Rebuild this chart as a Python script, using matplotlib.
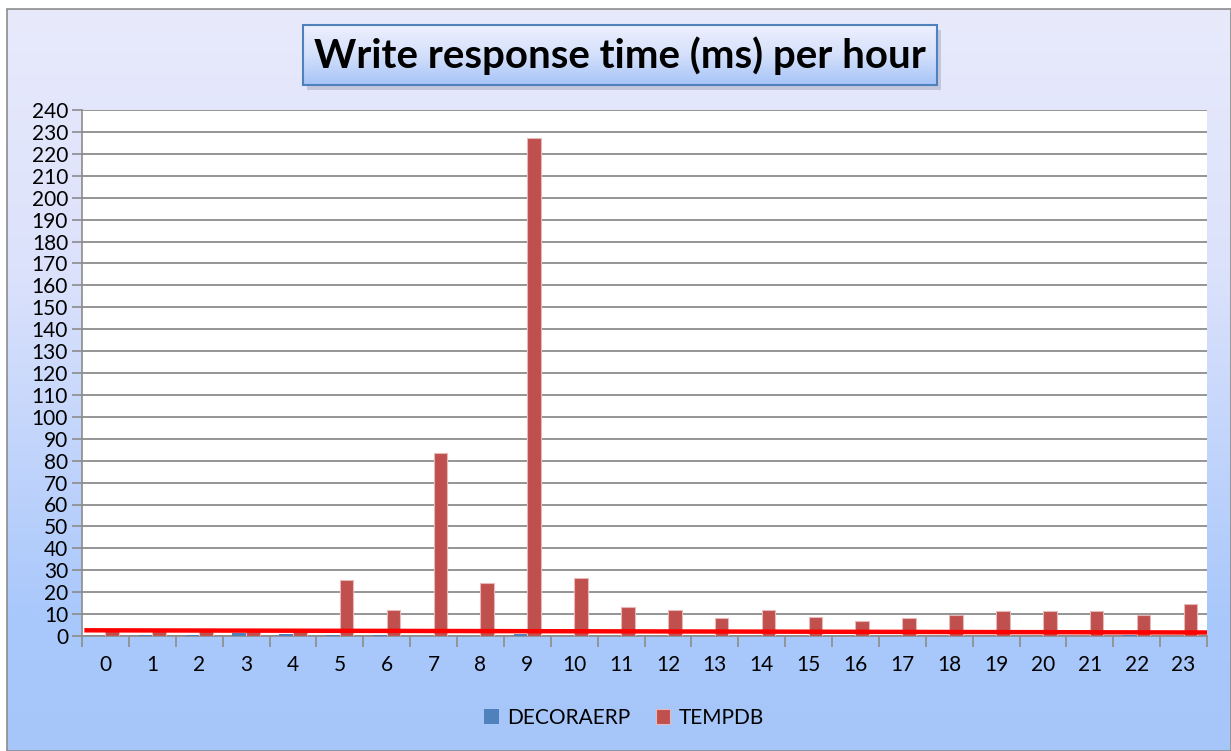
import numpy as np
import matplotlib
matplotlib.use("Agg")
import matplotlib.pyplot as plt
import matplotlib.patches as patches
from matplotlib.colors import LinearSegmentedColormap

# --- data ---
hours = [str(h) for h in range(24)]
decoraerp = [0.0, 0.5, 0.5, 1.5, 1.0, 0.5, 0.5, 0.2, 0.2, 1.0, 0.2, 0.2,
             0.1, 0.1, 0.1, 0.1, 0.1, 0.1, 0.1, 0.1, 0.1, 0.1, 0.4, 0.1]
tempdb = [2.8, 2.6, 2.7, 2.8, 2.6, 25.5, 11.7, 83.5, 24.0, 227.0, 26.6, 13.2,
          11.7, 8.0, 11.7, 8.6, 6.9, 8.0, 9.8, 11.2, 11.2, 11.2, 9.8, 14.5]
trend_ends = [2.6, 1.6]
yticks = list(range(0, 250, 10))

W, H = 1231, 751
fig = plt.figure(figsize=(W / 100, H / 100), dpi=100)
fig.patch.set_facecolor("white")

# background gradient + border
bg = fig.add_axes([0, 0, 1, 1], zorder=-5)
bg.set_xlim(0, W)
bg.set_ylim(H, 0)
bg.axis("off")
grad_cmap = LinearSegmentedColormap.from_list(
    "bg", [(0, "#E8EAFC"), (0.35, "#DCE2FB"), (0.82, "#A9C8FB"), (1, "#A6C6FA")])
grad = np.linspace(0, 1, 256).reshape(-1, 1)
bg.imshow(grad, cmap=grad_cmap, extent=[7, W, H, 9], aspect="auto", zorder=0)
bg.add_patch(patches.Rectangle((7, 9), W - 7, H - 9, fill=False, edgecolor="#8C8C8C", lw=1.2, zorder=2))

# title box with shadow
bx, by, bw, bh = 303, 25, 634, 60
bg.add_patch(patches.Rectangle((bx + 4, by + 5), bw, bh, facecolor="#9AA0B8", alpha=0.45, edgecolor="none", zorder=3))
title_cmap = LinearSegmentedColormap.from_list("tb", ["#EEF0FE", "#D4E0FB", "#A6C4F8"])
bg.imshow(grad, cmap=title_cmap, extent=[bx, bx + bw, by + bh, by], aspect="auto", zorder=4)
bg.add_patch(patches.Rectangle((bx, by), bw, bh, fill=False, edgecolor="#4F81BD", lw=1.5, zorder=5))
bg.text(bx + bw / 2, by + bh / 2 + 1, "Write response time (ms) per hour", ha="center", va="center",
        fontsize=29, fontweight="bold", family="Lato", color="black", zorder=6)

# plot area
ax = fig.add_axes([82 / W, 1 - 636 / H, (1207 - 82) / W, (636 - 110) / H])
ax.set_facecolor("white")
x = np.arange(len(hours))
bw_ = 0.29
ax.bar(x - bw_ / 2, decoraerp, width=bw_, color="#4F81BD", label="DECORAERP", zorder=3)
ax.bar(x + bw_ / 2, tempdb, width=bw_, color="#C0504D", edgecolor="#E6B9B8", linewidth=0.8,
       label="TEMPDB", zorder=3)
ax.plot([-0.45, 23.55], trend_ends, color="#FF0000", lw=3.2, solid_capstyle="butt", zorder=4)

ax.set_xlim(-0.5, 23.5)
ax.set_ylim(0, 240)
ax.set_yticks(yticks)
ax.set_yticklabels([str(v) for v in yticks], family="Lato", fontsize=15)
ax.yaxis.grid(True, color="#8C8C8C", lw=1.3, zorder=0)
ax.tick_params(axis="y", length=7, width=1.2, color="#8C8C8C", pad=3)

ax.set_xticks(x)
ax.set_xticklabels(hours, family="Lato", fontsize=15)
ax.set_xticks(np.arange(-0.5, 24, 1), minor=True)
ax.tick_params(axis="x", which="major", length=0, pad=14)
ax.tick_params(axis="x", which="minor", length=8, width=1.2, color="#8C8C8C")

for side in ["top", "right"]:
    ax.spines[side].set_visible(False)
ax.spines["left"].set_color("#8C8C8C")
ax.spines["bottom"].set_color("#8C8C8C")
ax.spines["left"].set_linewidth(1.2)
ax.spines["bottom"].set_linewidth(1.2)

leg = fig.legend(loc="center", bbox_to_anchor=(0.507, 1 - 718 / H), ncol=2, frameon=False,
                 prop={"family": "Lato", "size": 15}, handlelength=0.7, handleheight=0.7,
                 handletextpad=0.4, columnspacing=1.2)

fig.savefig("out.png", dpi=100)
